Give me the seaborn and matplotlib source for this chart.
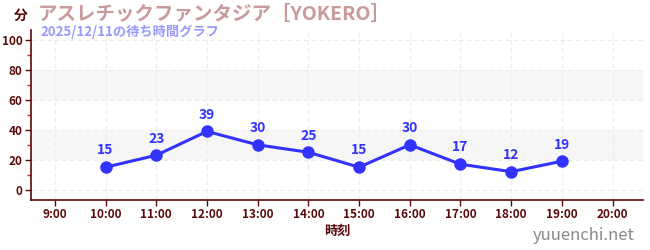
import matplotlib
matplotlib.use("Agg")
import matplotlib.pyplot as plt
import seaborn as sns
import pandas as pd
from matplotlib.ticker import MultipleLocator

sns.set_theme(style="white")
plt.rcParams['font.family'] = ['Noto Sans CJK JP', 'DejaVu Sans']

hours = [10, 11, 12, 13, 14, 15, 16, 17, 18, 19]
waits = [15, 23, 39, 30, 25, 15, 30, 17, 12, 19]
tick_hours = list(range(9, 21))
tick_labels = [f"{h}:00" for h in tick_hours]
title = "アスレチックファンタジア［YOKERO］"
subtitle = "2025/12/11の待ち時間グラフ"

df = pd.DataFrame({"hour": hours, "wait": waits})

fig = plt.figure(figsize=(6.5, 2.5), dpi=100)
ax = fig.add_axes([31/650, 50/250, 612/650, 170/250])

maroon = "#5a0a0a"
blue = "#3333ff"

for lo, hi in [(20, 40), (60, 80)]:
    ax.axhspan(lo, hi, color="#f6f6f6", zorder=0, lw=0)

sns.lineplot(data=df, x="hour", y="wait", ax=ax, color=blue, lw=2.2,
             marker="o", markersize=9, markeredgewidth=0, zorder=3)

for h, w in zip(hours, waits):
    ax.annotate(str(w), (h, w), xytext=(0, 7), textcoords="offset points",
                ha="center", va="bottom", color=blue, fontsize=10,
                fontweight="bold")

ax.set_xlim(8.53, 20.6)
ax.set_ylim(-7, 107)
ax.set_xticks(tick_hours)
ax.set_xticklabels(tick_labels)
ax.set_yticks([0, 20, 40, 60, 80, 100])
ax.yaxis.set_minor_locator(MultipleLocator(10))
ax.grid(True, which="major", axis="both", color="#ebebeb", ls=(0, (4, 3)), lw=0.8)
ax.set_axisbelow(True)

for s in ["top", "right"]:
    ax.spines[s].set_visible(False)
for s in ["left", "bottom"]:
    ax.spines[s].set_color(maroon)
    ax.spines[s].set_linewidth(1.2)

ax.tick_params(axis="both", which="major", direction="out", length=4, width=1,
               color=maroon, labelcolor=maroon, labelsize=8.5, pad=2, left=True, bottom=True)
ax.tick_params(axis="y", which="minor", direction="out", length=3, width=1,
               color="#e02020", left=True)
for lbl in ax.get_xticklabels() + ax.get_yticklabels():
    lbl.set_fontweight("bold")
ax.set_xlabel("時刻", color=maroon, fontsize=9.5, fontweight="bold", labelpad=2)
ax.set_ylabel("")

fig.text(14/650, 1 - 16/250, "分", color=maroon, fontsize=10, fontweight="bold",
         ha="left", va="center")
fig.text(38/650, 1 - 14/250, title, color="#c89a9a", fontsize=14,
         fontweight="bold", ha="left", va="center")
fig.text(40/650, 1 - 32/250, subtitle, color="#9999ff", fontsize=9.5,
         fontweight="bold", ha="left", va="center")
fig.text(635/650, 1 - 235/250, "yuuenchi.net", color="#888888", fontsize=12,
         ha="right", va="center")

fig.savefig("out.png", dpi=100)
